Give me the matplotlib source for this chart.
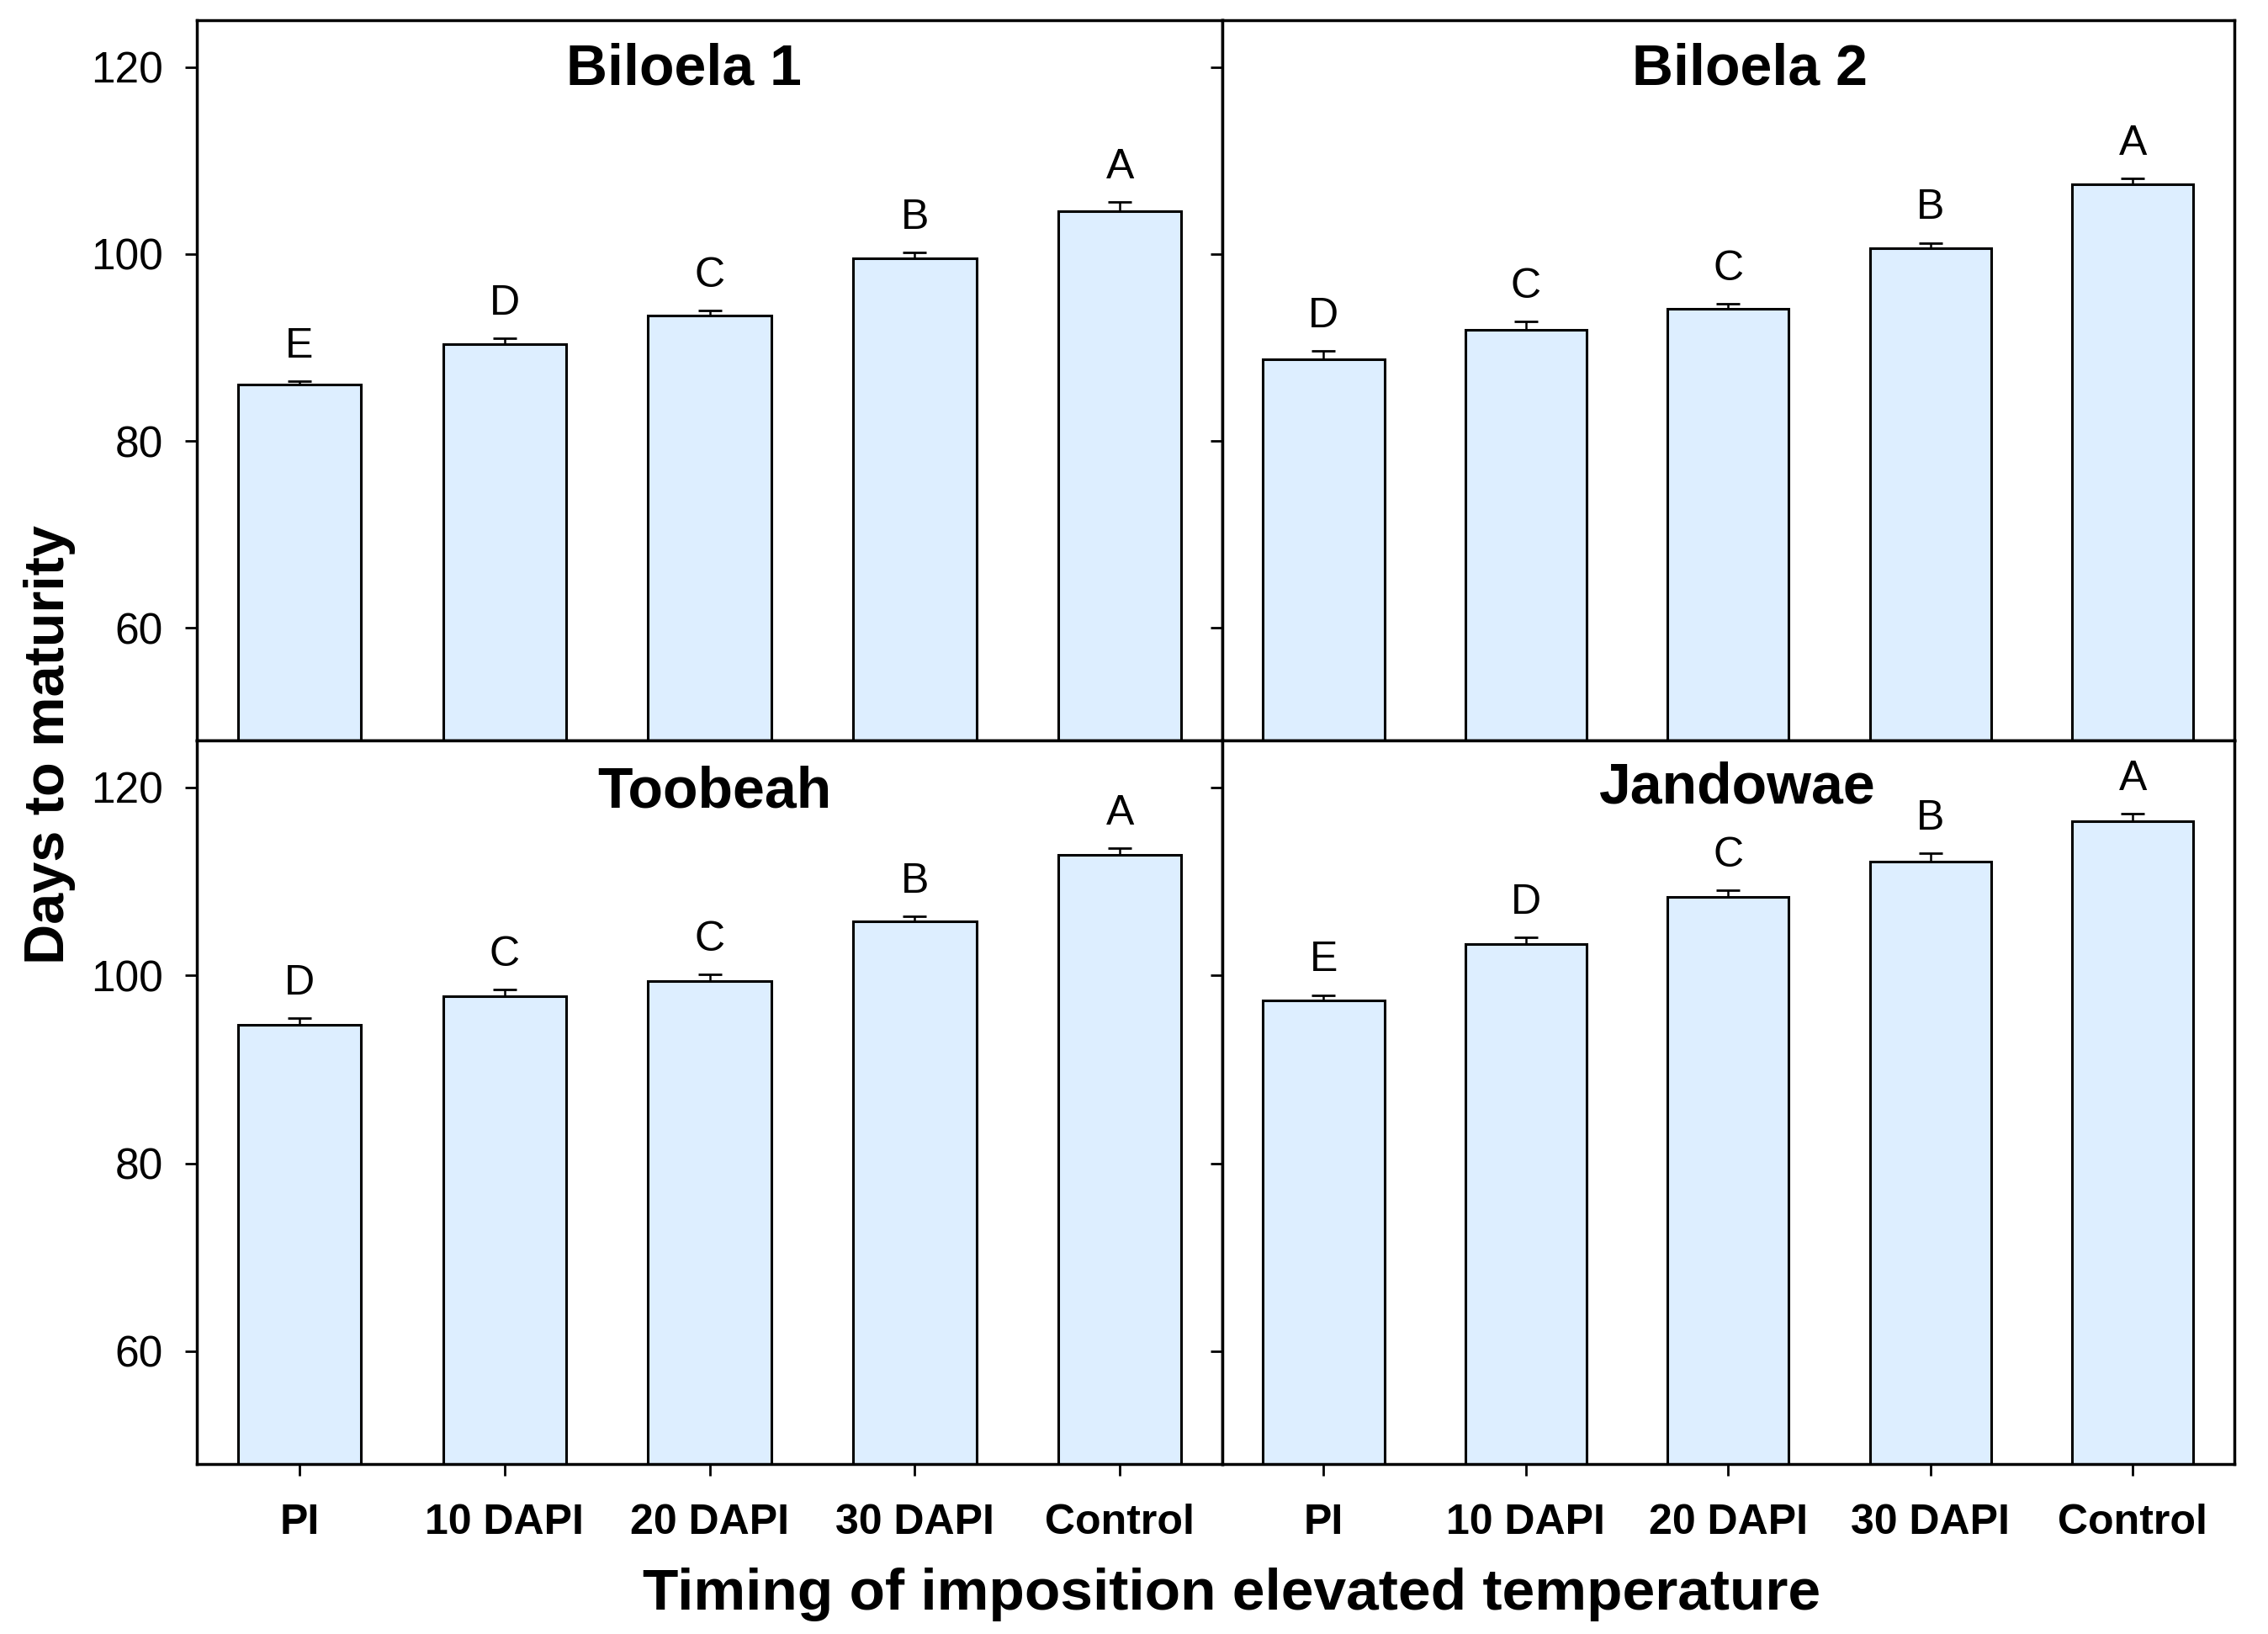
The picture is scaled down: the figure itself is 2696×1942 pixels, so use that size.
import matplotlib
matplotlib.use("Agg")
from matplotlib import pyplot as plt
from matplotlib import font_manager
import numpy as np

plt.rcParams['font.family'] = ['Liberation Sans', 'DejaVu Sans']

# Data
treatments = ['PI', '10 DAPI', '20 DAPI', '30 DAPI', 'Control']
sites = ['Biloela 1', 'Biloela 2', 'Toobeah', 'Jandowae']

biloela1_mean = [86.0, 90.4, 93.4, 99.5, 104.6]
biloela1_se = [0.4, 0.6, 0.6, 0.7, 1.0]
biloela1_grp = ['E', 'D', 'C', 'B', 'A']

biloela2_mean = [88.7, 91.9, 94.1, 100.6, 107.5]
biloela2_se = [0.9, 0.9, 0.6, 0.6, 0.6]
biloela2_grp = ['D', 'C', 'C', 'B', 'A']

toobeah_mean = [94.7, 97.8, 99.4, 105.7, 112.8]
toobeah_se = [0.7, 0.7, 0.7, 0.6, 0.7]
toobeah_grp = ['D', 'C', 'C', 'B', 'A']

jandowae_mean = [97.3, 103.3, 108.3, 112.1, 116.4]
jandowae_se = [0.6, 0.7, 0.7, 0.9, 0.8]
jandowae_grp = ['E', 'D', 'C', 'B', 'A']

means = [biloela1_mean, biloela2_mean, toobeah_mean, jandowae_mean]
errs = [biloela1_se, biloela2_se, toobeah_se, jandowae_se]
groups = [biloela1_grp, biloela2_grp, toobeah_grp, jandowae_grp]

# the category labels are in a condensed bold face; use the narrow family if present
names = {f.name for f in font_manager.fontManager.ttflist}
if 'Liberation Sans Narrow' in names:
    xlab_font, xlab_size = ['Liberation Sans Narrow'], 42
else:
    xlab_font, xlab_size = ['Liberation Sans', 'DejaVu Sans'], 36

fig = plt.figure(figsize=(26.96, 19.42), dpi=100)

left, mid, right = 0.0868, 0.539, 0.985
bottom, middle, top = 0.104, 0.547, 0.9876
positions = [
    [left, middle, mid - left, top - middle],
    [mid, middle, right - mid, top - middle],
    [left, bottom, mid - left, middle - bottom],
    [mid, bottom, right - mid, middle - bottom],
]
title_x = [0.475, 0.521, 0.505, 0.509]
title_y = [0.932, 0.932, 0.928, 0.934]

x = np.arange(len(treatments))
for i in range(4):
    ax = fig.add_axes(positions[i])
    ax.bar(x, means[i], width=0.6, color='#ddeeff', edgecolor='black',
           linewidth=2.2, zorder=2)
    ax.errorbar(x, means[i], yerr=[np.zeros(5), errs[i]], fmt='none',
                ecolor='black', elinewidth=1.8, capsize=10, capthick=2, zorder=1)
    for xi, m, e, g in zip(x, means[i], errs[i], groups[i]):
        ax.annotate(g, (xi, m + e), xytext=(0, 13), textcoords='offset points',
                    ha='center', va='bottom', fontsize=36)
    ax.set_xlim(-0.5, 4.5)
    ax.set_ylim(48, 125)
    ax.set_yticks([60, 80, 100, 120])
    ax.set_xticks(x)
    ax.tick_params(direction='out', length=10, width=2, labelsize=37, pad=19)
    for s in ax.spines.values():
        s.set_linewidth(2.5)
    if i % 2 == 1:
        ax.set_yticklabels([])
    if i < 2:
        ax.set_xticklabels([])
    else:
        ax.set_xticklabels(treatments, fontweight='bold', fontsize=xlab_size,
                           family=xlab_font)
        ax.tick_params(axis='x', pad=24)
    ax.text(title_x[i], title_y[i], sites[i], transform=ax.transAxes,
            ha='center', va='center', fontsize=49, fontweight='bold')

fig.text(0.022, 0.544, 'Days to maturity', rotation=90, ha='center', va='center',
         fontsize=48, fontweight='bold')
fig.text(0.543, 0.024, 'Timing of imposition elevated temperature', ha='center',
         va='center', fontsize=50, fontweight='bold')

fig.savefig('out.png', dpi=100)
